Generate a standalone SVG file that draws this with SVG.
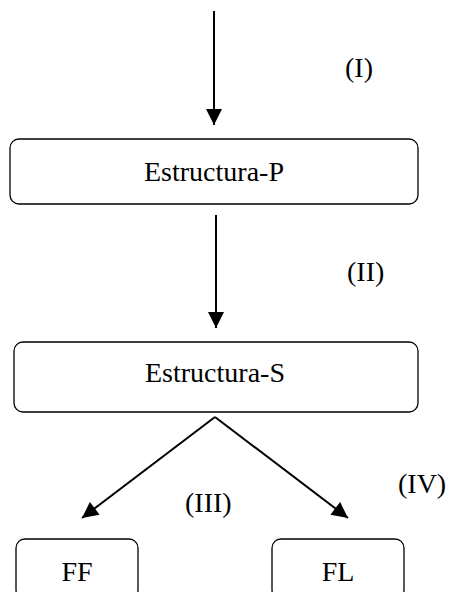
<svg xmlns="http://www.w3.org/2000/svg" width="451" height="592" viewBox="0 0 451 592">
<defs>
<style>
.box{fill:#fff;stroke:#000;stroke-width:1.3}
.t{font-family:"Liberation Serif","Times New Roman",serif;font-size:28px;fill:#000}
.c{stroke:#000;stroke-width:2;fill:none}
</style>
<marker id="ah" viewBox="0 0 10 10" refX="10" refY="5" markerWidth="8.5" markerHeight="8" markerUnits="strokeWidth" orient="auto">
<path d="M0,0 L10,5 L0,10 Z" fill="#000"/>
</marker>
</defs>
<rect width="451" height="592" fill="#fff"/>
<g id="connectors">
<line class="c" x1="214" y1="11" x2="214" y2="125" marker-end="url(#ah)"/>
<line class="c" x1="216" y1="215" x2="216" y2="328" marker-end="url(#ah)"/>
<line class="c" x1="215" y1="417" x2="82" y2="518" marker-end="url(#ah)"/>
<line class="c" x1="215" y1="417" x2="348" y2="518" marker-end="url(#ah)"/>
</g>
<g id="label-I"><text class="t" x="345" y="77">(I)</text></g>
<g id="label-II"><text class="t" x="347" y="281">(II)</text></g>
<g id="label-III"><text class="t" x="185" y="512">(III)</text></g>
<g id="label-IV"><text class="t" x="398" y="493">(IV)</text></g>
<g id="estructura-p">
<rect class="box" x="10" y="139" width="408" height="65" rx="9"/>
<text class="t" x="214" y="181" text-anchor="middle">Estructura-P</text>
</g>
<g id="estructura-s">
<rect class="box" x="14" y="342" width="404" height="70" rx="9"/>
<text class="t" x="215" y="382" text-anchor="middle">Estructura-S</text>
</g>
<g id="ff">
<rect class="box" x="16" y="539" width="122" height="60" rx="9"/>
<text class="t" x="77" y="581" text-anchor="middle">FF</text>
</g>
<g id="fl">
<rect class="box" x="272" y="539" width="132" height="60" rx="9"/>
<text class="t" x="338" y="581" text-anchor="middle">FL</text>
</g>
</svg>
